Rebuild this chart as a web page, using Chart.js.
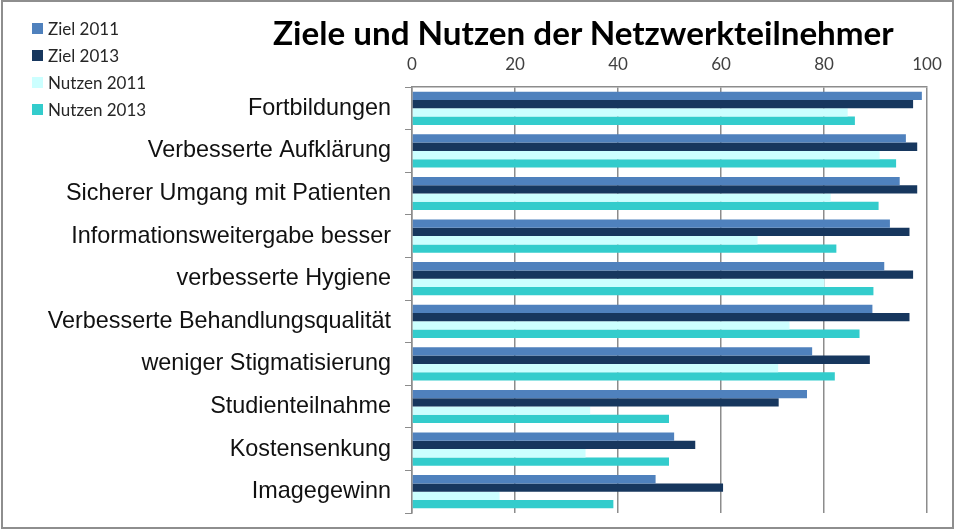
<!DOCTYPE html>
<html lang="de">
<head>
<meta charset="utf-8">
<title>Ziele und Nutzen der Netzwerkteilnehmer</title>
<script src="https://cdn.jsdelivr.net/npm/chart.js@4.4.1/dist/chart.umd.min.js"></script>
<style>
  html, body { margin: 0; padding: 0; background: #fff; }
  #wrap { position: relative; width: 955px; height: 530px; overflow: hidden; background: #fff; }
  #chart { position: absolute; left: 0; top: 0; }
  #frame { position: absolute; left: 1px; top: 0; width: 953px; height: 529px; box-sizing: border-box; border: 2px solid #8e8e8e; pointer-events: none; }
  #title { position: absolute; left: 273px; top: 12px; font: bold 33.2px Lato, sans-serif; color: #000; white-space: nowrap; }
  #legend { position: absolute; left: 32px; top: 15px; font: 17px Lato, sans-serif; color: #262626; }
  .item { height: 27px; display: flex; align-items: center; }
  .box { width: 11px; height: 11px; margin-right: 5px; }
</style>
</head>
<body>
<div id="wrap">
  <canvas id="chart" width="955" height="530"></canvas>
  <div id="title">Ziele und Nutzen der Netzwerkteilnehmer</div>
  <div id="legend"></div>
  <div id="frame"></div>
</div>
<script>
// data
const categories = [
  'Fortbildungen',
  'Verbesserte Aufklärung',
  'Sicherer Umgang mit Patienten',
  'Informationsweitergabe besser',
  'verbesserte Hygiene',
  'Verbesserte Behandlungsqualität',
  'weniger Stigmatisierung',
  'Studienteilnahme',
  'Kostensenkung',
  'Imagegewinn'
];
const seriesNames = ['Ziel 2011', 'Ziel 2013', 'Nutzen 2011', 'Nutzen 2013'];
const ziel2011   = [99.0, 95.9, 94.7, 92.8, 91.7, 89.4, 77.7, 76.7, 50.9, 47.3];
const ziel2013   = [97.3, 98.1, 98.1, 96.6, 97.3, 96.6, 88.9, 71.2, 55.0, 60.4];
const nutzen2011 = [84.6, 90.8, 81.3, 67.1, 80.1, 73.3, 71.1, 34.6, 33.7, 17.0];
const nutzen2013 = [86.0, 94.0, 90.6, 82.4, 89.6, 86.9, 82.1, 49.9, 49.9, 39.1];
const xTicks = [0, 20, 40, 60, 80, 100];

const colors = ['#4f81bd', '#17375e', '#ccffff', '#33cccc'];
const gridColor = '#8c8c8c';

const values = [ziel2011, ziel2013, nutzen2011, nutzen2013];
const datasets = seriesNames.map((name, i) => ({
    label: name,
    data: values[i],
    backgroundColor: colors[i],
    borderWidth: 0,
    barPercentage: 1.0,
    categoryPercentage: 0.78
}));

// legend in the top left corner
const legend = document.getElementById('legend');
seriesNames.forEach((name, i) => {
    const item = document.createElement('div');
    item.className = 'item';
    const box = document.createElement('span');
    box.className = 'box';
    box.style.background = colors[i];
    item.appendChild(box);
    item.appendChild(document.createTextNode(name));
    legend.appendChild(item);
});

const ctx = document.getElementById('chart').getContext('2d');
const chart = new Chart(ctx, {
    type: 'bar',
    data: {
        labels: categories,
        datasets: datasets
    },
    options: {
        indexAxis: 'y',
        responsive: false,
        animation: false,
        layout: {
            padding: { top: 0, left: 0, right: 28, bottom: 17 }
        },
        plugins: {
            legend: { display: false },
            title: { display: false },
            tooltip: { enabled: false }
        },
        scales: {
            x: {
                position: 'top',
                min: 0,
                max: 100,
                afterBuildTicks: function(scale) {
                    scale.ticks = xTicks.map(v => ({ value: v }));
                },
                afterFit: function(scale) {
                    scale.height = 87;
                },
                grid: {
                    color: gridColor,
                    lineWidth: 1.5,
                    drawTicks: false
                },
                border: { color: gridColor, width: 1.5 },
                ticks: {
                    padding: 12,
                    color: '#404040',
                    font: { family: 'Lato', size: 17 }
                }
            },
            y: {
                afterFit: function(scale) {
                    scale.width = 412;
                    // labels sit in the middle of their bands, no extra room needed
                    scale.paddingTop = 0;
                    scale.paddingBottom = 0;
                },
                grid: {
                    drawOnChartArea: false,
                    offset: true,
                    tickLength: 7,
                    color: gridColor
                },
                border: { color: gridColor, width: 1.5 },
                ticks: {
                    padding: 14,
                    color: '#111',
                    font: { family: 'Liberation Sans', size: 23.4 }
                }
            }
        }
    }
});
</script>
</body>
</html>
